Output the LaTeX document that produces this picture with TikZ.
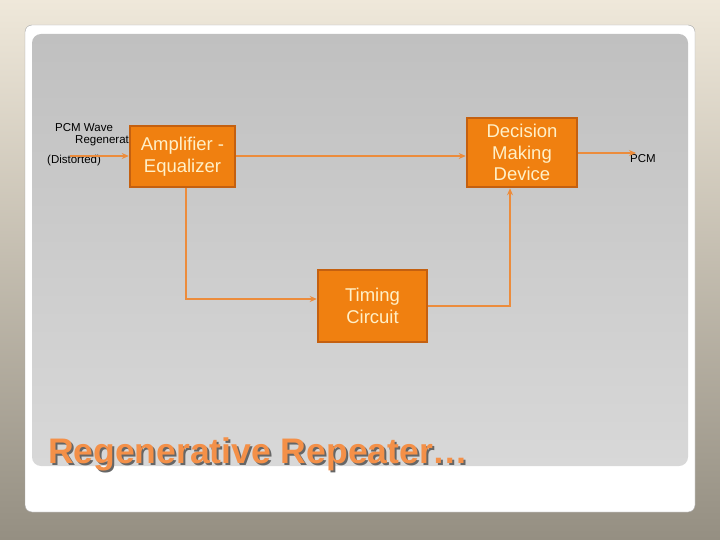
\documentclass[tikz,border=0pt]{standalone}
\usepackage{fontspec}
\setmainfont{Liberation Sans}
\usetikzlibrary{positioning,arrows.meta}
\definecolor{bgtop}{RGB}{239,232,218}
\definecolor{bgbot}{RGB}{149,143,130}
\definecolor{paneltop}{RGB}{192,192,192}
\definecolor{panelbot}{RGB}{216,216,216}
\definecolor{boxfill}{RGB}{240,128,16}
\definecolor{boxedge}{RGB}{196,96,16}
\definecolor{boxtext}{RGB}{255,240,200}
\definecolor{wire}{RGB}{236,140,60}
\definecolor{titleor}{RGB}{244,144,72}
\tikzset{
  blk/.style={draw=boxedge,fill=boxfill,line width=2.5pt,inner sep=0pt,
    text=boxtext,align=center,font=\fontsize{18.5}{21.5}\selectfont},
  wireln/.style={wire,line width=1.6pt,-{Stealth[length=7pt,width=6pt]}},
  lab/.style={font=\fontsize{11.5}{13}\selectfont,text=black,inner sep=0pt}
}
\begin{document}
\begin{tikzpicture}[x=1pt,y=-1pt]
  \useasboundingbox (0,0) rectangle (720,540);
  % slide background
  \shade[top color=bgtop,bottom color=bgbot] (0,0) rectangle (720,540);
  \fill[white,draw=gray!70,rounded corners=7pt] (25,25) rectangle (695,512);
  \shade[top color=paneltop,bottom color=panelbot,rounded corners=9pt] (32,34) rectangle (688,466);
  % labels
  \node[lab,anchor=base west] (wave) at (55,132) {PCM Wave};
  \node[lab,anchor=base west] (regen) at (75,144) {Regenerat};
  \node[lab,anchor=base west] (dist) at (47,164) {(Distorted)};
  \node[lab,anchor=base west] (out) at (630,163) {PCM};
  % blocks
  \node[blk,minimum width=105pt,minimum height=61pt] (amp) at (182.5,156.5) {Amplifier -\\Equalizer};
  \node[blk,minimum width=110pt,minimum height=69pt] (dec) at (522,152.5) {Decision\\Making\\Device};
  \node[blk,minimum width=109pt,minimum height=72pt] (tim) at (372.5,306) {Timing\\Circuit};
  \coordinate (src) at (70,156);
  \coordinate (dst) at (636,153);
  % connectors
  \draw[wireln] (src) -- (src -| amp.west);
  \draw[wireln] (amp.east |- src) -- (src -| dec.west);
  \draw[wireln] (dec.east |- dst) -- (dst);
  \draw[wireln] ([xshift=3.5pt]amp.south) |- ([yshift=7pt]tim.west);
  \draw[wireln] (tim.east) -| ([xshift=-12pt]dec.south);
  % title
  \node[anchor=base west,font=\bfseries\fontsize{35.5}{40}\selectfont,text=gray!80!black,inner sep=0pt] (shadow) at (50,465) {Regenerative Repeater…};
  \node[anchor=base west,font=\bfseries\fontsize{35.5}{40}\selectfont,text=titleor,inner sep=0pt] (title) at (48,463) {Regenerative Repeater…};
\end{tikzpicture}
\end{document}
